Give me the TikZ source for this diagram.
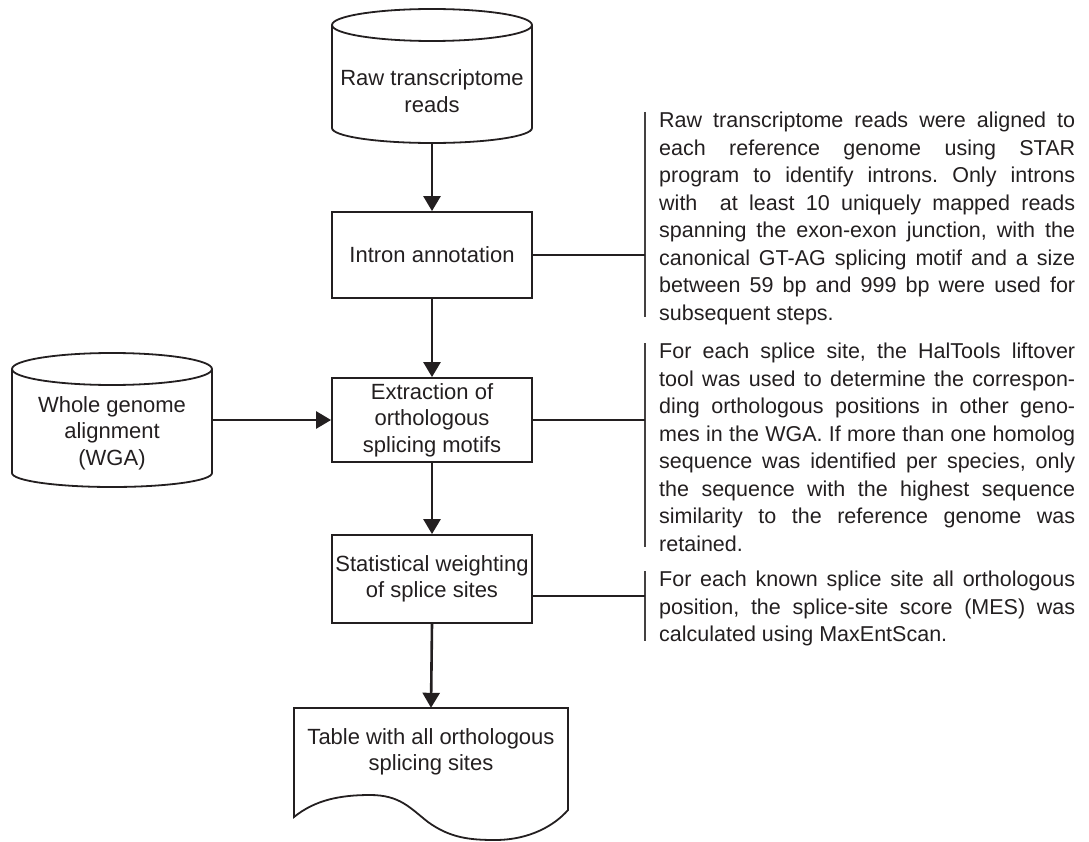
\documentclass[tikz,border=0pt]{standalone}
\usepackage{fontspec}
\setmainfont{Liberation Sans}
\usetikzlibrary{arrows.meta}
\definecolor{ink}{HTML}{231F20}
\newlength\dw \setlength\dw{416pt}
\newcommand\jl[1]{\makebox[\dw][s]{#1}}
\frenchspacing
\begin{document}
\begin{tikzpicture}[x=1pt,y=-1pt,
  boxline/.style={draw=ink, line width=1.8pt},
  proc/.style={boxline, minimum width=200pt, inner sep=0pt, align=center, font=\fontsize{22}{26.5}\selectfont, text=ink},
  lbl/.style={align=center, font=\fontsize{22}{26.5}\selectfont, text=ink, inner sep=0pt},
  frame/.style={minimum width=200pt, minimum height=134pt, inner sep=0pt},
  flow/.style={draw=ink, line width=2.6pt, -{Triangle[length=15pt,width=17pt]}},
  note/.style={anchor=north west, inner sep=0pt, align=left, font=\fontsize{21.5}{27.5}\selectfont\frenchspacing, text=ink},
  tie/.style={draw=ink, line width=1.5pt},
  brace/.style={draw=ink!85, line width=1.5pt}]
\useasboundingbox (0,0) rectangle (1089,842);

% top cylinder
\node[frame] (raw) at (432,76) {};
\draw[boxline] (432,25) ellipse [x radius=100pt, y radius=16pt];
\draw[boxline] (332,25) -- (332,128) arc[start angle=180,end angle=360,x radius=100pt,y radius=15pt] -- (532,25);
\node[lbl] (rawtext) at (432,91) {Raw transcriptome\\reads};

% process boxes
\node[proc, minimum height=86pt] (intron) at (432,255) {Intron annotation};
\node[proc, minimum height=84pt] (extract) at (432,420) {Extraction of\\orthologous\\splicing motifs};
\node[proc, minimum height=88pt] (stat) at (432,579) {Statistical weighting\\of splice sites};

% WGA cylinder
\node[frame] (wga) at (112,420) {};
\draw[boxline] (112,369) ellipse [x radius=100pt, y radius=16pt];
\draw[boxline] (12,369) -- (12,473) arc[start angle=180,end angle=360,x radius=100pt,y radius=14pt] -- (212,369);
\node[lbl] (wgatext) at (112,433) {Whole genome\\alignment\\(WGA)};

% document shape
\node[frame, minimum width=274pt] (table) at (431,775) {};
\draw[boxline] (294,817) -- (294,708) -- (568,708) -- (568,810)
  .. controls (555,825) and (530,840) .. (495,840)
  .. controls (470,840) and (450,838) .. (428,822)
  .. controls (410,808) and (400,795) .. (370,795)
  .. controls (340,795) and (315,800) .. (294,817) -- cycle;
\node[lbl] (tabletext) at (431,752) {Table with all orthologous\\splicing sites};

% flow arrows
\draw[flow] (raw.south) -- (intron.north);
\draw[flow] (intron.south) -- (extract.north);
\draw[flow] (extract.south) -- (stat.north);
\draw[flow] (stat.south) -- (table.north);
\draw[flow] (wga.east) -- (extract.west);

% notes
\coordinate (b1a) at (645,112); \coordinate (b1b) at (645,317);
\coordinate (b2a) at (645,343); \coordinate (b2b) at (645,547);
\coordinate (b3a) at (645,571); \coordinate (b3b) at (645,641);
\draw[brace] (b1a) -- (b1b);
\draw[brace] (b2a) -- (b2b);
\draw[brace] (b3a) -- (b3b);

\node[note] (n1) at (659,112) {\jl{Raw transcriptome reads were aligned to}\\
\jl{each reference genome using STAR}\\
\jl{program to identify introns. Only introns}\\
\jl{with\ \ at least 10 uniquely mapped reads}\\
\jl{spanning the exon-exon junction, with the}\\
\jl{canonical GT-AG splicing motif and a size}\\
\jl{between 59 bp and 999 bp were used for}\\
subsequent steps.};

\node[note] (n2) at (659,343) {\jl{For each splice site, the HalTools liftover}\\
\jl{tool was used to determine the correspon-}\\
\jl{ding orthologous positions in other geno-}\\
\jl{mes in the WGA. If more than one homolog}\\
\jl{sequence was identified per species, only}\\
\jl{the sequence with the highest sequence}\\
\jl{similarity to the reference genome was}\\
retained.};

\node[note] (n3) at (659,571) {\jl{For each known splice site all orthologous}\\
\jl{position, the splice-site score (MES) was}\\
calculated using MaxEntScan.};

% connectors to notes
\coordinate (s3) at ([yshift=-17pt]stat.east);
\draw[tie] (intron.east) -- (intron.east -| b1a);
\draw[tie] (extract.east) -- (extract.east -| b2a);
\draw[tie] (s3) -- (s3 -| b3a);
\end{tikzpicture}
\end{document}
